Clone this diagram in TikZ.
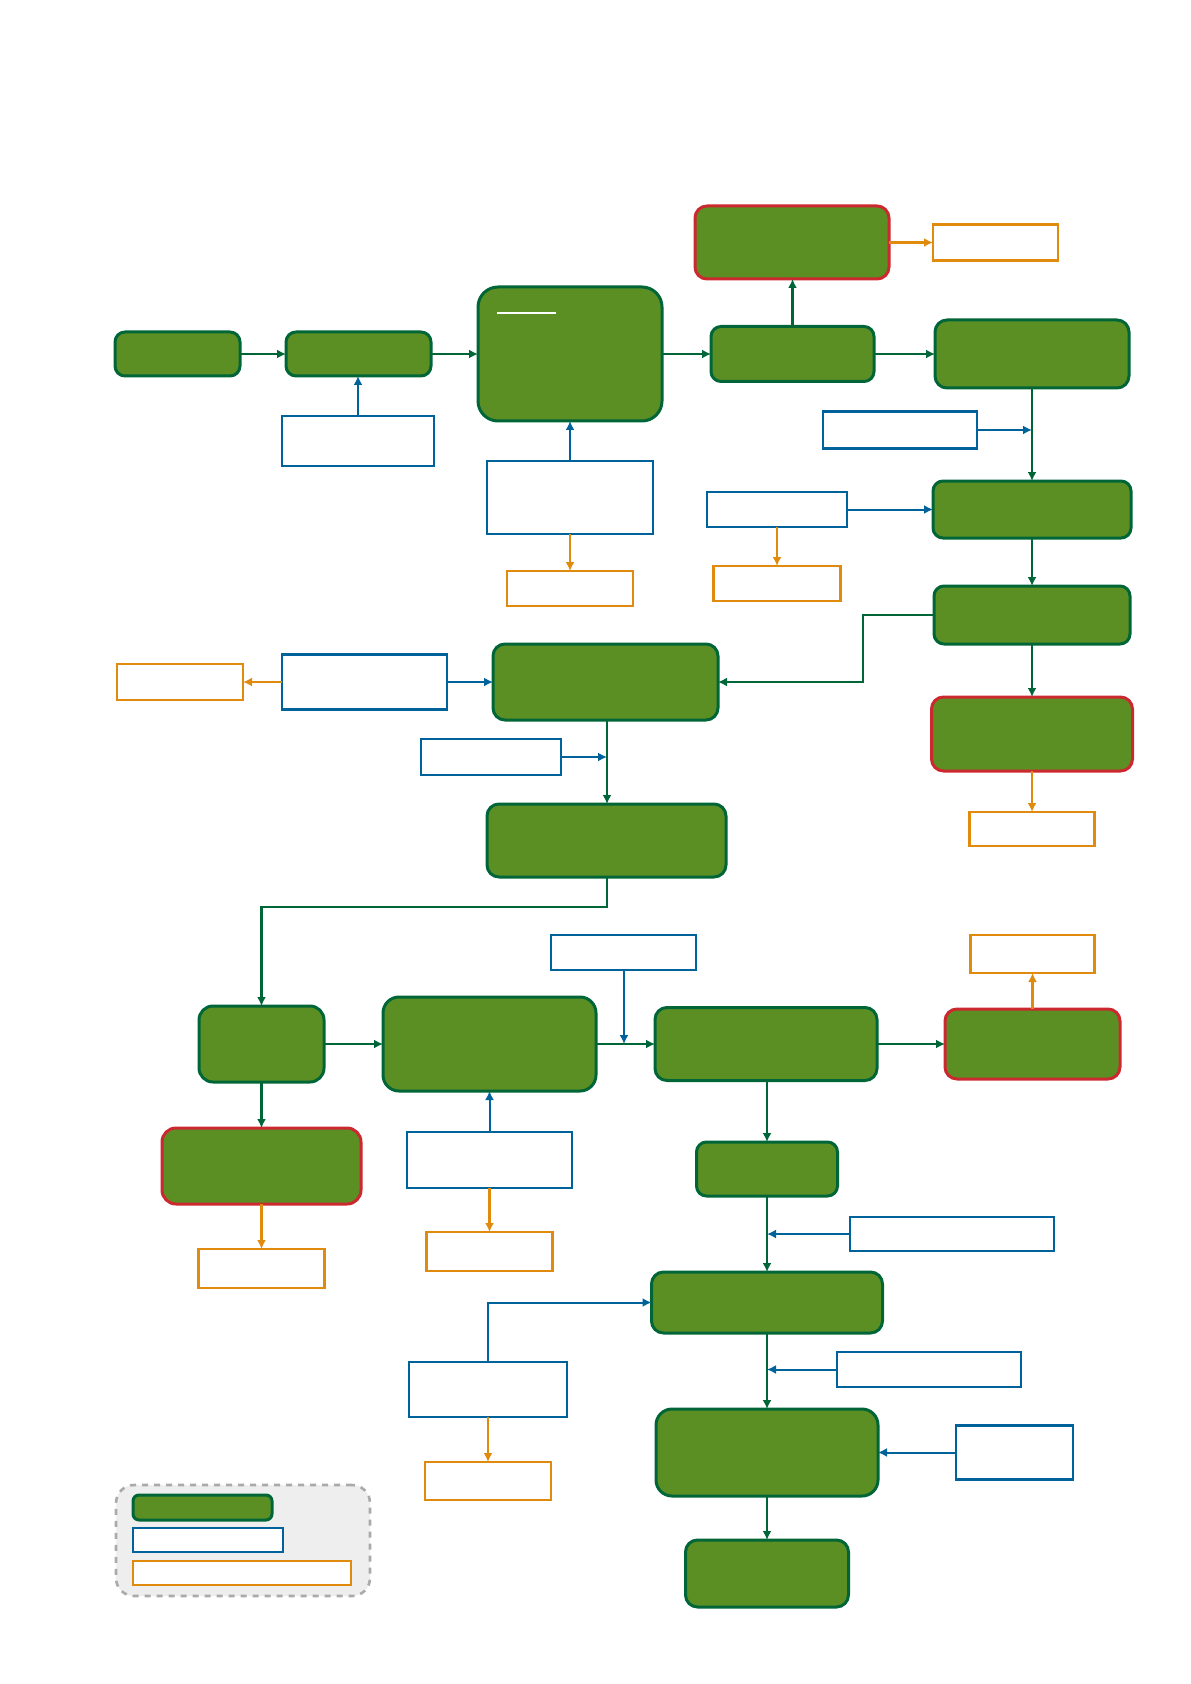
\documentclass[tikz,border=0pt]{standalone}
\usetikzlibrary{arrows.meta}
\definecolor{gfill}{RGB}{92,143,35}
\definecolor{gline}{RGB}{0,102,56}
\definecolor{rline}{RGB}{204,40,48}
\definecolor{bline}{RGB}{0,98,155}
\definecolor{oline}{RGB}{224,138,14}
\definecolor{lgfill}{RGB}{238,238,238}
\definecolor{lgline}{RGB}{170,170,170}
\begin{document}
\begin{tikzpicture}[x=0.5pt,y=-0.5pt,
 wh/.style 2 args={minimum width=#1*0.5pt, minimum height=#2*0.5pt, inner sep=0pt, outer sep=0pt},
 gbox/.style={draw=gline, fill=gfill, line width=1.5pt, rounded corners=5pt},
 rbox/.style={draw=rline, fill=gfill, line width=1.5pt, rounded corners=5pt},
 bbox/.style={draw=bline, fill=white, line width=1.2pt},
 obox/.style={draw=oline, fill=white, line width=1.1pt},
 garr/.style={draw=gline, line width=1.3pt, -{Latex[length=4.5pt,width=4.5pt]}},
 barr/.style={draw=bline, line width=1pt, -{Latex[length=4.5pt,width=4.5pt]}},
 oarr/.style={draw=oline, line width=1.1pt, -{Latex[length=4.5pt,width=4.5pt]}},
]
\useasboundingbox (0,0) rectangle (1190,1684);
% legend
\node[wh={254}{111}, draw=lgline, fill=lgfill, dashed, line width=1.3pt, rounded corners=9pt] (leg) at (243,1540.5) {};
\node[gbox, wh={139}{25}, rounded corners=3pt] (legg) at (202.5,1507.5) {};
\node[bbox, wh={150}{24}] (legb) at (208,1540) {};
\node[obox, wh={218}{24}] (lego) at (242,1573) {};

% top row
\node[gbox, wh={125}{44}] (A) at (177.5,354) {};
\node[gbox, wh={145}{44}] (B) at (358.5,354) {};
\node[bbox, wh={152}{50}] (Bin) at (358,441) {};
\node[gbox, wh={184}{134}, rounded corners=10pt] (C) at (570,354) {};
\draw[white, line width=0.6pt] (497,313) -- (556,313);
\node[bbox, wh={166}{73}] (Cin) at (570,497.5) {};
\node[obox, wh={126}{35}] (Cout) at (570,588.5) {};
\node[gbox, wh={163}{55}] (D) at (792.5,354) {};
\node[rbox, wh={194}{73}, rounded corners=6pt] (E) at (792,242.5) {};
\node[obox, wh={125}{36}] (Eout) at (995.5,242.5) {};
\node[gbox, wh={194}{68}, rounded corners=6pt] (F) at (1032,354) {};
\node[bbox, wh={154}{37}] (Fin) at (900,430) {};
\node[gbox, wh={198}{57}] (G) at (1032,509.5) {};
\node[bbox, wh={140}{35}] (Gin) at (777,509.5) {};
\node[obox, wh={127}{35}] (Gout) at (777,583.5) {};
\node[gbox, wh={196}{58}] (H) at (1032,615) {};
\node[rbox, wh={201}{74}, rounded corners=6pt] (I) at (1032,734) {};
\node[obox, wh={125}{34}] (Iout) at (1032,829) {};

% middle
\node[gbox, wh={225}{76}, rounded corners=6pt] (J) at (605.5,682) {};
\node[bbox, wh={165}{55}] (Jin) at (364.5,682) {};
\node[obox, wh={126}{36}] (Jout) at (180,682) {};
\node[bbox, wh={140}{36}] (Jin2) at (491,757) {};
\node[gbox, wh={239}{73}, rounded corners=6pt] (K) at (606.5,840.5) {};

% lower
\node[gbox, wh={125}{76}, rounded corners=7pt] (L) at (261.5,1044) {};
\node[gbox, wh={213}{94}, rounded corners=8pt] (M) at (489.5,1044) {};
\node[bbox, wh={165}{56}] (Min) at (489.5,1160) {};
\node[obox, wh={126}{39}] (Mout) at (489.5,1251.5) {};
\node[rbox, wh={199}{76}, rounded corners=7pt] (Lr) at (261.5,1166) {};
\node[obox, wh={126}{39}] (Lout) at (261.5,1268.5) {};
\node[gbox, wh={222}{73}, rounded corners=6pt] (N) at (766,1044) {};
\node[bbox, wh={145}{35}] (Nin) at (623.5,952.5) {};
\node[rbox, wh={175}{70}, rounded corners=6pt] (O) at (1032.5,1044) {};
\node[obox, wh={124}{38}] (Oout) at (1032.5,954) {};
\node[gbox, wh={141}{54}] (P) at (767,1169) {};
\node[bbox, wh={204}{34}] (Pin) at (952,1234) {};
\node[gbox, wh={231}{61}, rounded corners=6pt] (Q) at (767,1302.5) {};
\node[bbox, wh={158}{55}] (Qin) at (488,1389.5) {};
\node[obox, wh={126}{38}] (Qout) at (488,1481) {};
\node[bbox, wh={184}{35}] (Qin2) at (929,1369.5) {};
\node[gbox, wh={222}{87}, rounded corners=8pt] (R) at (767,1452.5) {};
\node[bbox, wh={117}{54}] (Rin) at (1014.5,1452.5) {};
\node[gbox, wh={163}{67}, rounded corners=6pt] (S) at (767,1573.5) {};

% junction coordinates
\coordinate (jF) at (1032,430);
\coordinate (jJ) at (607,757);
\coordinate (jN) at (624,1044);
\coordinate (jP) at (767,1234);
\coordinate (jQ) at (767,1369.5);
\coordinate (jH1) at (863,615);
\coordinate (jH2) at (863,682);
\coordinate (jK1) at (607,907);
\coordinate (jK2) at (261.5,907);
\coordinate (jQin) at (488,1302.5);

% connectors top
\draw[garr] (A) -- (B);
\draw[barr] (Bin.north) -- (Bin.north |- B.south);
\draw[garr] (B) -- (B -| C.west);
\draw[barr] (Cin.north) -- (C.south);
\draw[oarr] (Cin.south) -- (Cout.north);
\draw[garr] (C.east |- D) -- (D.west);
\draw[garr] (D.north) -- (D.north |- E.south);
\draw[oarr] (E.east |- Eout) -- (Eout.west);
\draw[garr] (D.east) -- (D.east -| F.west);
\draw[garr] (F.south) -- (F.south |- G.north);
\draw[barr] (Fin.east) -- (jF);
\draw[barr] (Gin.east) -- (Gin.east -| G.west);
\draw[oarr] (Gin.south) -- (Gout.north);
\draw[garr] (G.south) -- (G.south |- H.north);
\draw[garr] (H.south) -- (H.south |- I.north);
\draw[oarr] (I.south) -- (I.south |- Iout.north);
\draw[garr] (H.west) -- (jH1) -- (jH2) -- (J.east);
% middle
\draw[barr] (Jin.east) -- (J.west);
\draw[oarr] (Jin.west) -- (Jout.east);
\draw[garr] (J.south -| jJ) -- (K.north -| jJ);
\draw[barr] (Jin2.east) -- (jJ);
\draw[garr] (K.south -| jK1) -- (jK1) -- (jK2) -- (L.north);
% lower
\draw[garr] (L.east) -- (M.west);
\draw[garr] (L.south) -- (Lr.north);
\draw[oarr] (Lr.south) -- (Lout.north);
\draw[barr] (Min.north) -- (M.south);
\draw[oarr] (Min.south) -- (Mout.north);
\draw[garr] (M.east) -- (N.west);
\draw[barr] (Nin.south -| jN) -- (jN);
\draw[garr] (N.east) -- (O.west);
\draw[oarr] (O.north) -- (Oout.south);
\draw[garr] (N.south -| P.north) -- (P.north);
\draw[garr] (P.south) -- (Q.north);
\draw[barr] (Pin.west) -- (jP);
\draw[garr] (Q.south) -- (R.north);
\draw[barr] (Qin2.west) -- (jQ);
\draw[barr] (Qin.north) -- (jQin) -- (Q.west);
\draw[oarr] (Qin.south) -- (Qout.north);
\draw[barr] (Rin.west) -- (R.east);
\draw[garr] (R.south) -- (S.north);
\end{tikzpicture}
\end{document}
